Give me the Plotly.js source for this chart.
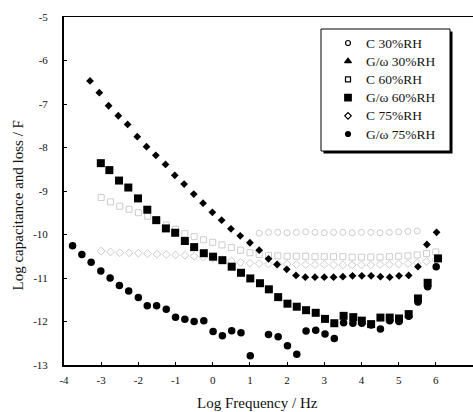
<!DOCTYPE html>
<html>
<head>
<meta charset="utf-8">
<script src="https://cdn.plot.ly/plotly-3.0.1.min.js"></script>
<style>html,body{margin:0;padding:0;background:#fff;}#chart{width:473px;height:412px;}</style>
</head>
<body>
<div id="chart"></div>
<script>
// ---- data ----
var seriesNames = ["C 30%RH", "G/\u03c9 30%RH", "C 60%RH", "G/\u03c9 60%RH", "C 75%RH", "G/\u03c9 75%RH"];

var freqGw30 = [-3.30,-3.05,-2.80,-2.54,-2.29,-2.03,-1.78,-1.53,-1.27,-1.02,-0.77,-0.51,-0.26,-0.01,0.24,0.49,0.74,1.00,1.25,1.50,1.73,1.99,2.24,2.49,2.75,3.00,3.25,3.50,3.76,4.01,4.26,4.51,4.76,5.01,5.27,5.52,5.76,6.02];
var gw30 = [-6.47,-6.74,-7.04,-7.27,-7.47,-7.75,-7.98,-8.18,-8.39,-8.64,-8.84,-9.07,-9.28,-9.49,-9.67,-9.87,-10.03,-10.19,-10.36,-10.56,-10.69,-10.80,-10.94,-10.98,-10.98,-10.98,-10.98,-10.97,-10.95,-10.95,-10.95,-10.97,-10.98,-10.95,-10.94,-10.74,-10.23,-9.95];

var freqGw60 = [-3.01,-2.78,-2.52,-2.27,-2.01,-1.76,-1.52,-1.26,-1.01,-0.75,-0.50,-0.24,0.01,0.26,0.51,0.76,1.01,1.27,1.51,1.76,2.01,2.26,2.51,2.77,3.02,3.27,3.52,3.78,4.01,4.26,4.51,4.76,5.01,5.27,5.52,5.78,6.06];
var gw60 = [-8.36,-8.52,-8.76,-8.92,-9.17,-9.43,-9.67,-9.86,-9.96,-10.15,-10.29,-10.43,-10.51,-10.59,-10.74,-10.88,-11.01,-11.12,-11.26,-11.44,-11.59,-11.66,-11.74,-11.80,-11.94,-12.04,-11.87,-11.90,-11.98,-12.06,-11.91,-11.91,-11.93,-11.83,-11.47,-11.11,-10.55];

var freqGw75 = [-3.77,-3.52,-3.27,-3.01,-2.76,-2.51,-2.26,-2.00,-1.76,-1.51,-1.25,-1.00,-0.75,-0.50,-0.24,0.01,0.26,0.51,0.76,1.01,1.50,1.76,2.01,2.26,2.51,2.77,3.02,3.27,3.52,3.77,4.01,4.26,4.51,4.76,5.01,5.27,5.52,5.78,6.01];
var gw75 = [-10.26,-10.46,-10.64,-10.84,-11.00,-11.17,-11.30,-11.45,-11.64,-11.64,-11.72,-11.90,-11.95,-12.00,-11.98,-12.23,-12.33,-12.21,-12.26,-12.79,-12.30,-12.35,-12.56,-12.75,-12.22,-12.20,-12.29,-12.39,-12.03,-12.04,-12.04,-12.08,-12.17,-11.98,-12.00,-11.88,-11.55,-11.20,-10.74];

var freqC30 = [1.25,1.50,1.75,2.00,2.25,2.50,2.75,3.00,3.25,3.50,3.75,4.00,4.25,4.50,4.75,5.00,5.25,5.50];
var c30 = [-9.97,-9.95,-9.95,-9.96,-9.95,-9.94,-9.95,-9.96,-9.95,-9.95,-9.96,-9.95,-9.95,-9.96,-9.95,-9.94,-9.93,-9.92];

var freqC = [-3.00,-2.75,-2.50,-2.25,-2.00,-1.75,-1.50,-1.25,-1.00,-0.75,-0.50,-0.25,0.00,0.25,0.50,0.75,1.00,1.25,1.50,1.75,2.00,2.25,2.50,2.75,3.00,3.25,3.50,3.75,4.00,4.25,4.50,4.75,5.00,5.25,5.50,5.75,6.00];
var c60 = [-9.15,-9.25,-9.35,-9.42,-9.50,-9.58,-9.68,-9.78,-9.88,-9.98,-10.05,-10.12,-10.18,-10.24,-10.30,-10.36,-10.42,-10.46,-10.48,-10.49,-10.50,-10.50,-10.50,-10.51,-10.51,-10.51,-10.51,-10.52,-10.52,-10.52,-10.52,-10.51,-10.50,-10.49,-10.47,-10.44,-10.40];
var c75 = [-10.38,-10.40,-10.42,-10.42,-10.43,-10.44,-10.45,-10.46,-10.47,-10.48,-10.50,-10.52,-10.55,-10.58,-10.61,-10.64,-10.66,-10.67,-10.68,-10.68,-10.68,-10.69,-10.69,-10.69,-10.69,-10.70,-10.70,-10.70,-10.70,-10.70,-10.69,-10.69,-10.68,-10.67,-10.65,-10.62,-10.58];

var xTickVals = [-4,-3,-2,-1,0,1,2,3,4,5,6,7];
var xTickText = ["-4","-3","-2","-1","0","1","2","3","4","5","6","7"];
var yTickVals = [-13,-12,-11,-10,-9,-8,-7,-6,-5];
var yTickText = ["-13","-12","-11","-10","-9","-8","-7","-6","-5"];

// legend symbols per series
var legendSymbols = ["circle-open", "triangle-up", "square-open", "square", "diamond-open", "circle"];
var legendSizes = [5, 6, 5, 6.5, 5, 5];

// ---- styles / legend geometry (overlay axes in pixel units) ----
var serif = "Liberation Serif, Times New Roman, serif";
var faint = "#cccccc";
var lgLeft = 321, lgRight = 450, lgTop = 29, lgBottom = 151;
var lgSymX = 348, lgTextX = 364, lgRow0 = 43, lgRowStep = 18.2;

function faintTrace(x, y, sym) {
  return {x: x, y: y, type: "scatter", mode: "markers", showlegend: false, hoverinfo: "skip",
    marker: {symbol: sym, size: 6, color: faint, line: {color: faint, width: 1}}};
}

var traces = [
  faintTrace(freqC30, c30, "circle-open"),
  faintTrace(freqC, c60, "square-open"),
  faintTrace(freqC, c75, "diamond-open"),
  {x: freqGw30, y: gw30, type: "scatter", mode: "markers", showlegend: false,
    marker: {symbol: "diamond", size: 6, color: "#000"}},
  {x: freqGw60, y: gw60, type: "scatter", mode: "markers", showlegend: false,
    marker: {symbol: "square", size: 8, color: "#000"}},
  {x: freqGw75, y: gw75, type: "scatter", mode: "markers", showlegend: false,
    marker: {symbol: "circle", size: 7.5, color: "#000"}}
];

var annotations = [
  {xref: "paper", yref: "paper", x: 0.473, y: -0.109, yanchor: "middle", xanchor: "center", showarrow: false,
    text: "Log Frequency / Hz", font: {family: serif, size: 15, color: "#111"}},
  {xref: "paper", yref: "paper", x: -0.112, y: 0.459, xanchor: "center", yanchor: "middle", showarrow: false,
    textangle: -90, text: "Log capacitance and loss / F", font: {family: serif, size: 15, color: "#111"}}
];

for (var i = 0; i < seriesNames.length; i++) {
  var ry = lgRow0 + i * lgRowStep;
  traces.push({x: [lgSymX], y: [ry], xaxis: "x2", yaxis: "y2", type: "scatter", mode: "markers",
    showlegend: false, hoverinfo: "skip",
    marker: {symbol: legendSymbols[i], size: legendSizes[i], color: "#000", line: {color: "#000", width: 1.2}}});
  annotations.push({xref: "x2", yref: "y2", x: lgTextX, y: ry, xanchor: "left", yanchor: "middle",
    showarrow: false, text: seriesNames[i], font: {family: serif, size: 13.5, color: "#111"}});
}

var layout = {
  width: 473, height: 412,
  margin: {l: 64, r: 0, t: 17, b: 47},
  paper_bgcolor: "#fff", plot_bgcolor: "#fff",
  font: {family: serif, color: "#111", size: 11},
  showlegend: false,
  xaxis: {range: [-4, 7], tickmode: "array", tickvals: xTickVals, ticktext: xTickText,
    showgrid: false, zeroline: false, showline: true, linecolor: "#000", linewidth: 1.5,
    mirror: true, ticks: "inside", ticklen: 3, tickcolor: "#000",
    tickfont: {family: serif, size: 11, color: "#111"}, ticklabelstandoff: 4},
  yaxis: {range: [-13, -5], tickmode: "array", tickvals: yTickVals, ticktext: yTickText,
    showgrid: false, zeroline: false, showline: true, linecolor: "#000", linewidth: 2,
    ticks: "inside", ticklen: 3, tickcolor: "#000",
    tickfont: {family: serif, size: 11, color: "#111"}, ticklabelstandoff: 12},
  xaxis2: {overlaying: "x", range: [64, 473], visible: false, fixedrange: true},
  yaxis2: {overlaying: "y", range: [365, 17], visible: false, fixedrange: true},
  shapes: [
    {type: "rect", xref: "x2", yref: "y2", layer: "below",
      x0: lgLeft + 2.5, x1: lgRight + 2.5, y0: lgTop + 2.5, y1: lgBottom + 2.5, fillcolor: "#000", line: {width: 0}},
    {type: "rect", xref: "x2", yref: "y2", layer: "below",
      x0: lgLeft, x1: lgRight, y0: lgTop, y1: lgBottom, fillcolor: "#fff", line: {color: "#000", width: 1}}
  ],
  annotations: annotations
};

Plotly.newPlot("chart", traces, layout, {displayModeBar: false, staticPlot: true});
</script>
</body>
</html>
